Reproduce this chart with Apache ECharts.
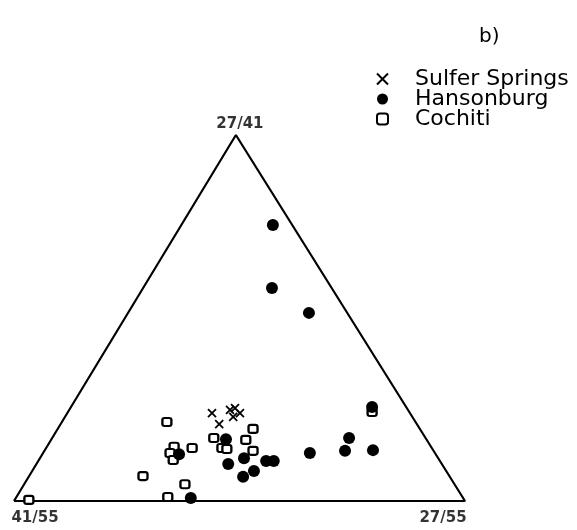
<!DOCTYPE html>
<html>
<head>
<meta charset="utf-8">
<script src="https://cdn.jsdelivr.net/npm/echarts@6/dist/echarts.min.js"></script>
<style>
  html, body { margin: 0; padding: 0; background: #fff; }
  #chart { width: 577px; height: 530px; }
</style>
</head>
<body>
<div id="chart"></div>
<script>
// triangle corners in plot units (base 0..100, apex height 100)
var vertices = [[0, 0], [49.2, 100], [100, 0]];
var vertexLabels = ['41/55', '27/41', '27/55'];

var sulferSprings = [
  [43.9, 24.0], [45.5, 21.0], [47.9, 24.9], [49.0, 25.4], [50.1, 24.0], [48.6, 23.0]
];
var hansonburg = [
  [57.4, 75.4], [57.2, 58.2], [65.4, 51.4], [79.4, 25.7], [74.3, 17.2],
  [73.4, 13.7], [79.6, 13.9], [65.6, 13.1], [36.6, 12.8], [47.0, 16.9],
  [47.5, 10.1], [51.0, 11.7], [55.9, 10.9], [57.6, 10.9], [50.8, 6.6],
  [53.2, 8.2], [39.2, 0.8]
];
var cochiti = [
  [33.9, 21.6], [35.5, 14.8], [34.6, 13.1], [35.3, 11.2], [39.5, 14.5],
  [44.3, 17.2], [46.1, 14.5], [47.2, 14.2], [53.0, 19.7], [51.4, 16.7],
  [53.0, 13.7], [28.6, 6.8], [37.9, 4.6], [34.1, 1.1], [3.3, 0.3],
  [79.4, 24.3]
];

var myChart = echarts.init(document.getElementById('chart'));

var font = 'DejaVu Sans';
var labelOffsets = [[21, 17], [4, -11], [-22, 17]];

// vertex labels ride on an invisible scatter at the corners
var cornerData = vertices.map(function (v, i) {
  return {
    value: v,
    label: {
      show: true,
      formatter: vertexLabels[i],
      position: 'inside',
      offset: labelOffsets[i]
    }
  };
});

myChart.setOption({
  animation: false,
  backgroundColor: '#fff',
  grid: { left: 14, right: 112, top: 135, bottom: 29 },
  xAxis: { type: 'value', min: 0, max: 100, show: false },
  yAxis: { type: 'value', min: 0, max: 100, show: false },
  legend: {
    orient: 'vertical',
    left: 371,
    top: 63,
    itemWidth: 11,
    itemHeight: 11,
    itemGap: -2,
    data: ['Sulfer Springs', 'Hansonburg', 'Cochiti'],
    textStyle: {
      fontFamily: font,
      fontSize: 22,
      lineHeight: 20.5,
      color: '#000',
      padding: [0, 0, 0, 22]
    }
  },
  graphic: [{
    type: 'text',
    left: 479,
    top: 27,
    style: { text: 'b)', font: '20px DejaVu Sans', fill: '#000' }
  }],
  series: [
    {
      name: 'triangle',
      type: 'line',
      data: vertices.concat([vertices[0]]),
      symbol: 'none',
      silent: true,
      lineStyle: { color: '#000', width: 2.2 },
      z: 1
    },
    {
      name: 'corners',
      type: 'scatter',
      data: cornerData,
      symbolSize: 1,
      silent: true,
      itemStyle: { color: 'rgba(0,0,0,0)' },
      label: {
        fontFamily: font,
        fontWeight: 'bold',
        fontSize: 15,
        color: '#000'
      },
      z: 1
    },
    {
      name: 'Sulfer Springs',
      type: 'scatter',
      data: sulferSprings,
      symbol: 'path://M0,0L10,10M10,0L0,10',
      symbolSize: 8,
      itemStyle: { color: '#000', borderColor: '#000', borderWidth: 1.8, opacity: 1 },
      z: 3
    },
    {
      name: 'Hansonburg',
      type: 'scatter',
      data: hansonburg,
      symbol: 'circle',
      symbolSize: 12,
      itemStyle: { color: '#000', opacity: 1 },
      z: 4
    },
    {
      name: 'Cochiti',
      type: 'scatter',
      data: cochiti,
      symbol: 'roundRect',
      symbolSize: [9, 8],
      itemStyle: { color: '#fff', borderColor: '#000', borderWidth: 2.2, opacity: 1 },
      z: 2
    }
  ]
});
</script>
</body>
</html>
